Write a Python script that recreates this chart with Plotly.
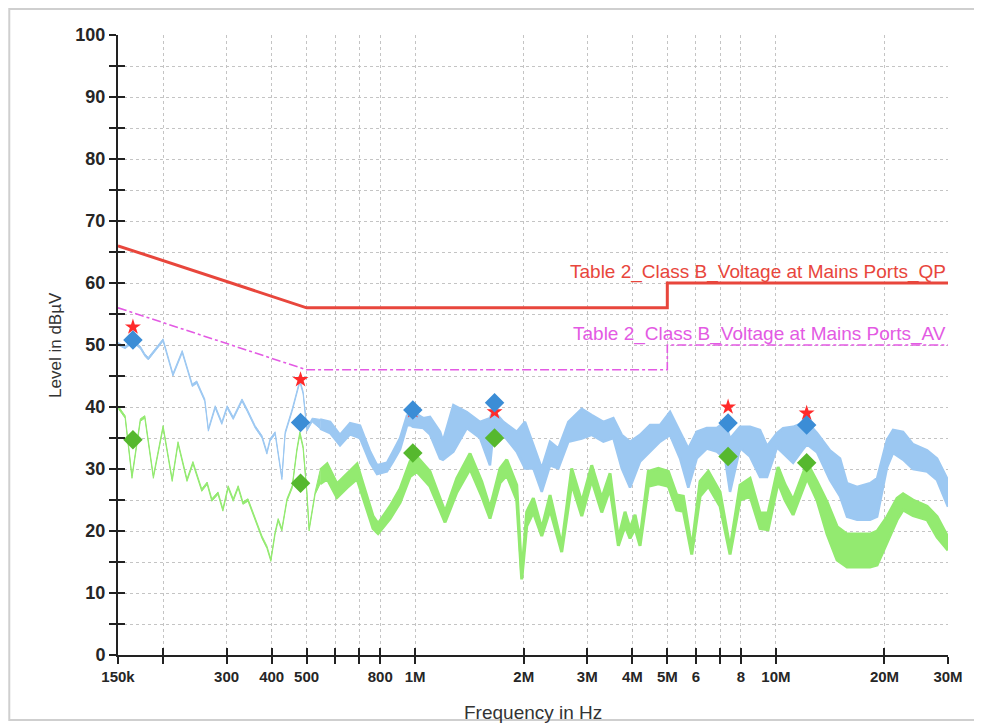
import math
import plotly.graph_objects as go

# ---------------- data ----------------
# Limit lines (frequency in MHz, level in dBµV)
limit_freq = [0.15, 0.5, 5.0, 5.0, 30.0]
qp_limit = [66, 56, 56, 60, 60]
av_limit = [56, 46, 46, 50, 50]

# Peak / final measurement markers
peak_freq = [0.165, 0.481, 0.985, 1.66, 7.37, 12.17]
peak_star = [52.9, 44.4, 39.4, 39.2, 40.0, 39.0]
qp_final = [50.8, 37.5, 39.5, 40.7, 37.4, 37.1]
av_final = [34.7, 27.7, 32.6, 35.0, 32.0, 31.0]

# Blue (QP pre-scan) trace: upper / lower envelope
blue_freq = [0.150, 0.157, 0.165, 0.173, 0.178, 0.182, 0.200, 0.213, 0.226, 0.241,
             0.248, 0.261, 0.267, 0.279, 0.291, 0.301, 0.313, 0.331, 0.342, 0.360,
             0.376, 0.388, 0.396, 0.409, 0.427, 0.436, 0.456, 0.479, 0.489, 0.501,
             0.518, 0.545, 0.581, 0.619, 0.660, 0.703, 0.750, 0.784, 0.835, 0.868,
             0.908, 0.949, 0.968, 0.986, 1.053, 1.099, 1.172, 1.194, 1.276, 1.390,
             1.513, 1.612, 1.644, 1.755, 1.912, 2.016, 2.126, 2.243, 2.365, 2.494,
             2.658, 2.896, 3.086, 3.324, 3.543, 3.738, 3.941, 4.201, 4.478, 4.773,
             5.088, 5.423, 5.718, 6.033, 6.432, 6.855, 7.228, 7.462, 7.954, 8.479,
             9.037, 9.451, 10.07, 10.47, 11.16, 11.82, 12.20, 13.00, 14.13, 15.06,
             15.75, 16.79, 18.24, 19.08, 20.33, 21.13, 22.52, 24.00, 26.25, 27.98,
             30.00]
blue_hi = [50.4, 49.8, 50.8, 49.8, 48.6, 48.0, 51.0, 45.4, 49.1, 43.7,
           44.2, 41.3, 36.5, 40.2, 37.6, 40.2, 38.4, 41.3, 39.7, 37.0,
           35.4, 32.8, 34.9, 36.0, 28.7, 36.0, 39.7, 44.4, 42.5, 36.6,
           38.2, 38.0, 37.6, 35.5, 37.4, 37.0, 32.8, 30.6, 31.0, 32.8,
           35.0, 38.6, 38.9, 39.2, 38.2, 38.4, 36.0, 34.5, 40.3, 39.2,
           37.6, 38.2, 39.5, 37.6, 36.0, 37.6, 33.9, 30.1, 34.4, 33.3,
           37.6, 39.7, 38.7, 37.6, 38.2, 35.5, 34.4, 35.5, 37.1, 37.1,
           39.2, 36.0, 33.3, 36.0, 36.6, 36.6, 37.6, 34.9, 36.8, 36.8,
           36.3, 33.7, 35.8, 36.6, 36.8, 37.4, 37.6, 35.8, 33.0, 31.7,
           27.7, 27.1, 27.7, 28.5, 34.7, 36.3, 36.0, 34.0, 33.0, 31.7,
           28.2]
blue_lo = [50.0, 49.4, 50.4, 49.4, 48.2, 47.6, 50.6, 45.0, 48.7, 43.3,
           43.8, 40.9, 36.1, 39.8, 37.2, 39.8, 38.0, 40.9, 39.3, 36.6,
           35.0, 32.4, 34.5, 35.6, 28.3, 35.6, 39.3, 44.0, 42.1, 36.1,
           37.6, 36.5, 35.8, 33.8, 35.6, 35.0, 31.0, 29.2, 29.6, 31.2,
           33.2, 37.0, 37.1, 36.8, 36.6, 35.6, 31.7, 31.5, 32.8, 36.6,
           35.0, 30.6, 35.5, 35.5, 32.8, 30.1, 30.1, 26.3, 30.6, 30.1,
           34.4, 34.9, 35.5, 34.4, 35.0, 30.1, 27.0, 31.2, 32.8, 34.4,
           35.5, 31.7, 27.0, 31.7, 33.3, 32.8, 31.7, 26.3, 33.4, 32.0,
           28.7, 28.7, 33.5, 32.5, 31.0, 33.0, 34.0, 32.7, 28.2, 25.6,
           22.3, 21.8, 21.8, 22.3, 30.3, 32.6, 31.5, 30.0, 29.6, 28.2,
           23.9]

# Green (AV pre-scan) trace: upper / lower envelope
green_freq = [0.150, 0.157, 0.164, 0.173, 0.178, 0.188, 0.200, 0.212, 0.220, 0.233,
              0.242, 0.256, 0.265, 0.273, 0.284, 0.293, 0.303, 0.313, 0.323, 0.333,
              0.344, 0.360, 0.376, 0.388, 0.398, 0.409, 0.417, 0.427, 0.441, 0.456,
              0.470, 0.479, 0.489, 0.501, 0.508, 0.528, 0.545, 0.570, 0.607, 0.647,
              0.690, 0.717, 0.764, 0.789, 0.852, 0.908, 0.968, 1.010, 1.099, 1.210,
              1.304, 1.419, 1.529, 1.612, 1.719, 1.794, 1.912, 1.974, 2.038, 2.126,
              2.243, 2.365, 2.548, 2.716, 2.896, 3.086, 3.290, 3.469, 3.658, 3.817,
              3.941, 4.069, 4.201, 4.430, 4.722, 5.034, 5.310, 5.539, 5.844, 6.162,
              6.498, 7.001, 7.462, 7.954, 8.479, 9.037, 9.511, 10.14, 10.60, 11.16,
              11.82, 12.20, 13.00, 13.86, 14.78, 15.75, 16.79, 18.24, 19.08, 20.33,
              21.67, 22.52, 24.00, 26.25, 27.98, 30.00]
green_hi = [40.2, 38.6, 28.9, 38.1, 38.6, 28.9, 37.0, 28.4, 34.4, 28.4,
            31.2, 26.8, 27.9, 25.2, 26.3, 23.6, 27.3, 25.2, 27.3, 24.7,
            25.2, 22.0, 19.2, 17.6, 15.5, 19.9, 22.0, 20.4, 25.2, 27.3,
            33.3, 36.0, 33.7, 26.3, 20.4, 26.3, 29.8, 30.8, 27.6, 29.2,
            30.8, 27.6, 22.4, 21.2, 24.0, 26.8, 31.2, 32.0, 29.6, 23.1,
            28.5, 32.5, 28.0, 23.7, 30.1, 31.5, 27.4, 12.9, 23.1, 25.3,
            20.4, 25.8, 17.7, 30.1, 24.7, 30.6, 25.3, 29.3, 18.8, 23.1,
            20.4, 22.6, 18.8, 29.6, 30.1, 29.6, 25.8, 25.6, 17.2, 28.0,
            29.6, 26.3, 17.2, 27.4, 28.5, 22.9, 22.9, 30.3, 27.5, 25.0,
            29.0, 31.0, 28.0, 24.7, 20.7, 19.5, 19.5, 19.5, 20.0, 22.3,
            25.3, 26.0, 25.0, 24.0, 22.3, 19.0]
green_lo = [39.8, 38.2, 28.5, 37.7, 38.2, 28.5, 36.6, 28.0, 34.0, 28.0,
            30.8, 26.4, 27.5, 24.8, 25.9, 23.2, 26.9, 24.8, 26.9, 24.3,
            24.8, 21.6, 18.8, 17.2, 15.1, 19.5, 21.6, 20.0, 24.8, 26.9,
            32.9, 35.6, 33.3, 25.9, 20.0, 25.9, 27.6, 28.4, 25.4, 27.0,
            28.4, 25.4, 20.4, 19.6, 22.0, 24.6, 28.8, 29.6, 27.2, 21.4,
            26.2, 30.0, 25.6, 22.0, 27.8, 29.0, 25.0, 12.2, 20.8, 23.0,
            19.2, 23.4, 16.6, 27.6, 22.4, 28.2, 23.0, 26.8, 17.6, 20.8,
            18.8, 20.4, 17.6, 27.2, 27.6, 27.2, 23.4, 23.2, 16.2, 25.6,
            27.2, 24.0, 16.2, 25.0, 25.6, 20.4, 20.2, 27.8, 25.0, 22.6,
            26.6, 28.5, 25.0, 19.5, 15.3, 14.2, 14.2, 14.2, 14.5, 18.0,
            21.8, 23.4, 22.5, 21.8, 19.0, 16.9]

# Axis ticks
x_tickvals = [0.15, 0.2, 0.3, 0.4, 0.5, 0.6, 0.7, 0.8, 1, 2, 3, 4, 5, 6, 7, 8, 10, 20, 30]
x_ticktext = ["150k", "", "300", "400", "500", "", "", "800", "1M", "2M", "3M", "4M",
              "5M", "6", "", "8", "10M", "20M", "30M"]
y_tickvals = [0, 10, 20, 30, 40, 50, 60, 70, 80, 90, 100]

qp_label = "Table 2_Class B_Voltage at Mains Ports_QP"
av_label = "Table 2_Class B_Voltage at Mains Ports_AV"

# ---------------- styles ----------------
BLUE_TRACE = "#9cc8f2"
GREEN_TRACE = "#93ea70"
BLUE_MARK = "#3b8dd6"
GREEN_MARK = "#56b82e"
QP_RED = "#e8463c"
AV_MAG = "#e35ae3"
GRID = "#c4c4c4"
FONT = "Liberation Sans, Arial, sans-serif"
SPLIT_FREQ = 0.53   # below: thin sweep line, above: dense noisy band

fig = go.Figure()

def band(freq, lo, hi, color, width):
    fig.add_trace(go.Scatter(x=freq, y=lo, mode="lines",
                             line=dict(color=color, width=width), hoverinfo="skip"))
    fig.add_trace(go.Scatter(x=freq, y=hi, mode="lines", fill="tonexty",
                             fillcolor=color, line=dict(color=color, width=width),
                             hoverinfo="skip"))

def split_band(freq, lo, hi, color, thin_w, thick_w):
    k = next(i for i, f in enumerate(freq) if f >= SPLIT_FREQ)
    band(freq[:k + 1], lo[:k + 1], hi[:k + 1], color, thin_w)
    band(freq[k:], lo[k:], hi[k:], color, thick_w)

split_band(green_freq, green_lo, green_hi, GREEN_TRACE, 1, 3)
split_band(blue_freq, blue_lo, blue_hi, BLUE_TRACE, 1, 2.5)

fig.add_trace(go.Scatter(x=limit_freq, y=qp_limit, mode="lines",
                         line=dict(color=QP_RED, width=3)))
fig.add_trace(go.Scatter(x=limit_freq, y=av_limit, mode="lines",
                         line=dict(color=AV_MAG, width=1.6, dash="dashdot")))

fig.add_trace(go.Scatter(x=peak_freq, y=peak_star, mode="markers",
                         marker=dict(symbol="star", size=12, color="#ff2a2a",
                                     line=dict(width=0))))
fig.add_trace(go.Scatter(x=peak_freq, y=qp_final, mode="markers",
                         marker=dict(symbol="diamond", size=15, color=BLUE_MARK,
                                     line=dict(width=0))))
fig.add_trace(go.Scatter(x=peak_freq, y=av_final, mode="markers",
                         marker=dict(symbol="diamond", size=15, color=GREEN_MARK,
                                     line=dict(width=0))))

# invisible trace on overlay axes (for crossing ticks)
fig.add_trace(go.Scatter(x=[1], y=[50], xaxis="x2", yaxis="y2", mode="markers",
                         marker=dict(opacity=0), hoverinfo="skip"))

xr = [math.log10(0.15), math.log10(30)]
xtickfont = dict(family=FONT, size=15, color="#262626", weight="bold")
ytickfont = dict(family=FONT, size=18, color="#262626", weight="bold")

# page body has an 8 px margin: figure sized/padded so the plot lands where the reference has it
fig.update_layout(
    width=974, height=716,
    margin=dict(l=110, r=34, t=27, b=69, autoexpand=False),
    paper_bgcolor="white", plot_bgcolor="white",
    showlegend=False,
    font=dict(family=FONT),
    xaxis=dict(type="log", range=xr, tickvals=x_tickvals, ticktext=x_ticktext,
               ticks="outside", ticklen=7, tickwidth=1.5, tickcolor="#222",
               showline=True, linecolor="#222", linewidth=2,
               showgrid=True, gridcolor=GRID, griddash="dot", gridwidth=1,
               tickfont=xtickfont, zeroline=False),
    yaxis=dict(range=[0, 100], tickvals=y_tickvals,
               ticks="outside", ticklen=7, tickwidth=1.5, tickcolor="#222",
               showline=True, linecolor="#222", linewidth=2,
               showgrid=True, gridcolor=GRID, griddash="dot", gridwidth=1,
               minor=dict(dtick=5, ticks="outside", ticklen=7, tickwidth=1.5,
                          tickcolor="#222", showgrid=True, gridcolor=GRID,
                          griddash="dot"),
               tickfont=ytickfont, zeroline=False),
    xaxis2=dict(type="log", range=xr, overlaying="x", anchor="y", side="bottom",
                tickvals=x_tickvals, ticks="inside", ticklen=7, tickwidth=1.5,
                tickcolor="#222", showticklabels=False, showgrid=False,
                showline=False, zeroline=False),
    yaxis2=dict(range=[0, 100], overlaying="y", anchor="x", side="left",
                tickvals=y_tickvals, ticks="inside", ticklen=7, tickwidth=1.5,
                tickcolor="#222", showticklabels=False, showgrid=False,
                minor=dict(dtick=5, ticks="inside", ticklen=7, tickwidth=1.5,
                           tickcolor="#222"),
                showline=False, zeroline=False),
)

fig.add_annotation(x=math.log10(30), y=59.7, xref="x", yref="y", text=qp_label,
                   showarrow=False, xanchor="right", yanchor="bottom",
                   font=dict(family=FONT, size=19, color=QP_RED))
fig.add_annotation(x=math.log10(30), y=49.7, xref="x", yref="y", text=av_label,
                   showarrow=False, xanchor="right", yanchor="bottom",
                   font=dict(family=FONT, size=19, color=AV_MAG))

fig.add_annotation(x=0.5, y=-0.092, xref="paper", yref="paper", text="Frequency in Hz",
                   showarrow=False, xanchor="center", yanchor="middle",
                   font=dict(family=FONT, size=19, color="#333"))
fig.add_annotation(x=-0.076, y=0.5, xref="paper", yref="paper", text="Level in dBµV",
                   showarrow=False, textangle=-90, xanchor="center", yanchor="middle",
                   font=dict(family=FONT, size=17, color="#333"))

# outer frame of the picture (right edge runs off the page, as in the reference)
fig.add_shape(type="rect", xref="paper", yref="paper",
              x0=-0.131, x1=1.1, y0=-0.105, y1=1.042,
              line=dict(color="#cfcfcf", width=2), layer="below")

fig.write_html("out.html")
